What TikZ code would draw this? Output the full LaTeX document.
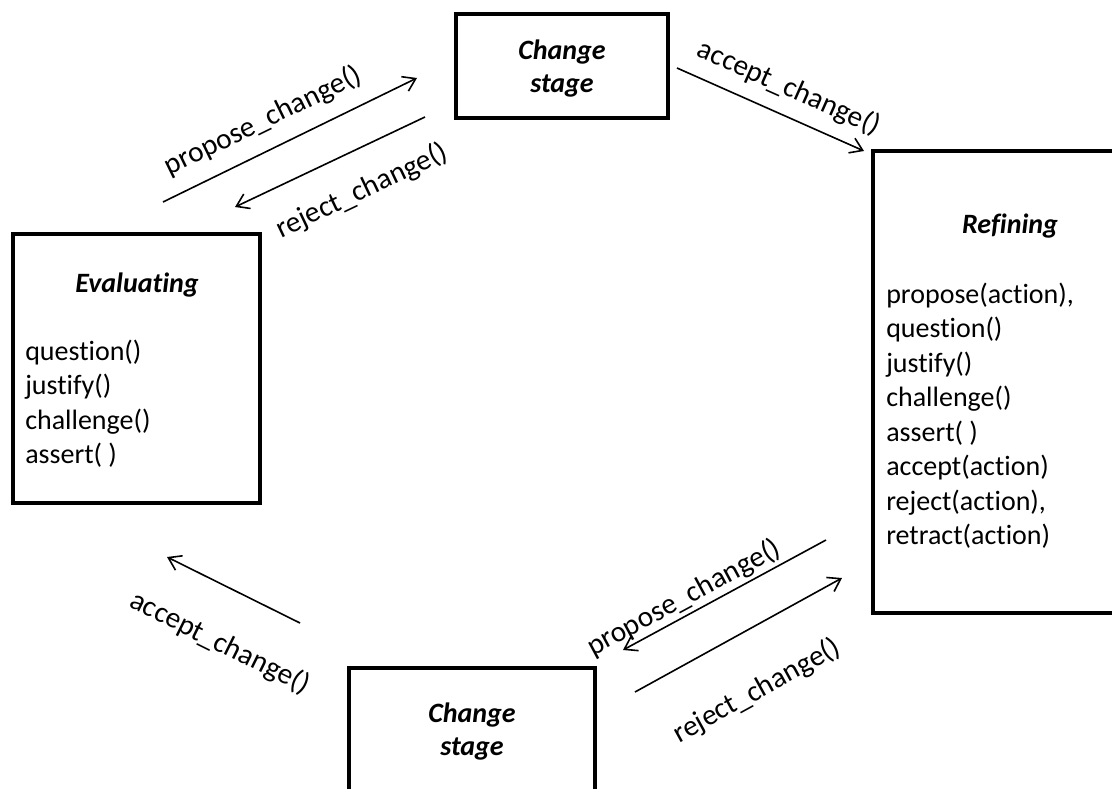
\documentclass[tikz,border=0pt]{standalone}
\usepackage{fontspec}
\setmainfont{Carlito}[Ligatures={NoCommon}]
\usetikzlibrary{arrows.meta,fit}

\begin{document}
\begin{tikzpicture}[x=0.75pt,y=-0.75pt,
  box/.style={draw, line width=2.4pt, inner sep=0pt},
  flow/.style={line width=1.2pt,
    -{Straight Barb[length=9pt,width=12pt,line width=1.2pt]}},
  lbl/.style={font=\fontsize{22}{24}\selectfont, inner sep=0pt},
  title/.style={font=\fontsize{21}{24.75}\selectfont\bfseries\itshape,
    inner sep=0pt, anchor=base},
  items/.style={font=\fontsize{21}{25.9}\selectfont,
    inner sep=0pt, anchor=base west}]
\useasboundingbox (0,0) rectangle (1112,788);
\clip (0,0) rectangle (1112,788);

% corners of the four state boxes
\coordinate (top-a) at (456,14);   \coordinate (top-b) at (668,118);
\coordinate (ev-a)  at (13,234);   \coordinate (ev-b)  at (260,503);
\coordinate (ref-a) at (873,151);  \coordinate (ref-b) at (1147,613);
\coordinate (bot-a) at (349,668);  \coordinate (bot-b) at (595,840);

\node[box, fit=(top-a)(top-b)] (topchange) {};
\node[box, fit=(ev-a)(ev-b)] (evaluating) {};
\node[box, fit=(ref-a)(ref-b)] (refining) {};
\node[box, fit=(bot-a)(bot-b)] (botchange) {};

% box contents
\node[title] (topchange-t) at (562,60)
  {\begin{tabular}[t]{@{}c@{}}Change\\stage\end{tabular}};
\node[title] (botchange-t) at (472,722)
  {\begin{tabular}[t]{@{}c@{}}Change\\stage\end{tabular}};
\node[title] (evaluating-t) at (137,292) {Evaluating};
\node[title] (refining-t) at (1010,233) {Refining};

\node[items] (evaluating-l) at (25,360)
  {\begin{tabular}[t]{@{}l@{}}question()\\justify()\\challenge()\\assert( )\end{tabular}};
\node[items] (refining-l) at (886,303)
  {\begin{tabular}[t]{@{}l@{}}propose(action),\\question()\\justify()\\challenge()\\assert( )\\accept(action)\\reject(action),\\retract(action)\end{tabular}};

% transition arrows
\coordinate (a1s) at (163,202); \coordinate (a1e) at (417,78);
\coordinate (a2s) at (425,117); \coordinate (a2e) at (235,207);
\coordinate (a3s) at (677,68);  \coordinate (a3e) at (864,151);
\coordinate (a4s) at (300,623); \coordinate (a4e) at (167,557);
\coordinate (a5s) at (826,540); \coordinate (a5e) at (623,650);
\coordinate (a6s) at (635,692); \coordinate (a6e) at (842,578);

\draw[flow] (a1s) -- (a1e);
\draw[flow] (a2s) -- (a2e);
\draw[flow] (a3s) -- (a3e);
\draw[flow] (a4s) -- (a4e);
\draw[flow] (a5s) -- (a5e);
\draw[flow] (a6s) -- (a6e);

% transition labels
\node[lbl, rotate=26]    (pc1) at (263,121) {propose\_change()};
\node[lbl, rotate=25.5]  (rc1) at (362,191) {reject\_change()};
\node[lbl, rotate=-24]   (ac1) at (789,88)  {accept\_change()};
\node[lbl, rotate=-26.4] (ac2) at (220,643) {accept\_change()};
\node[lbl, rotate=28.3]  (pc2) at (684,598) {propose\_change()};
\node[lbl, rotate=28.8]  (rc2) at (757,691) {reject\_change()};
\end{tikzpicture}
\end{document}
